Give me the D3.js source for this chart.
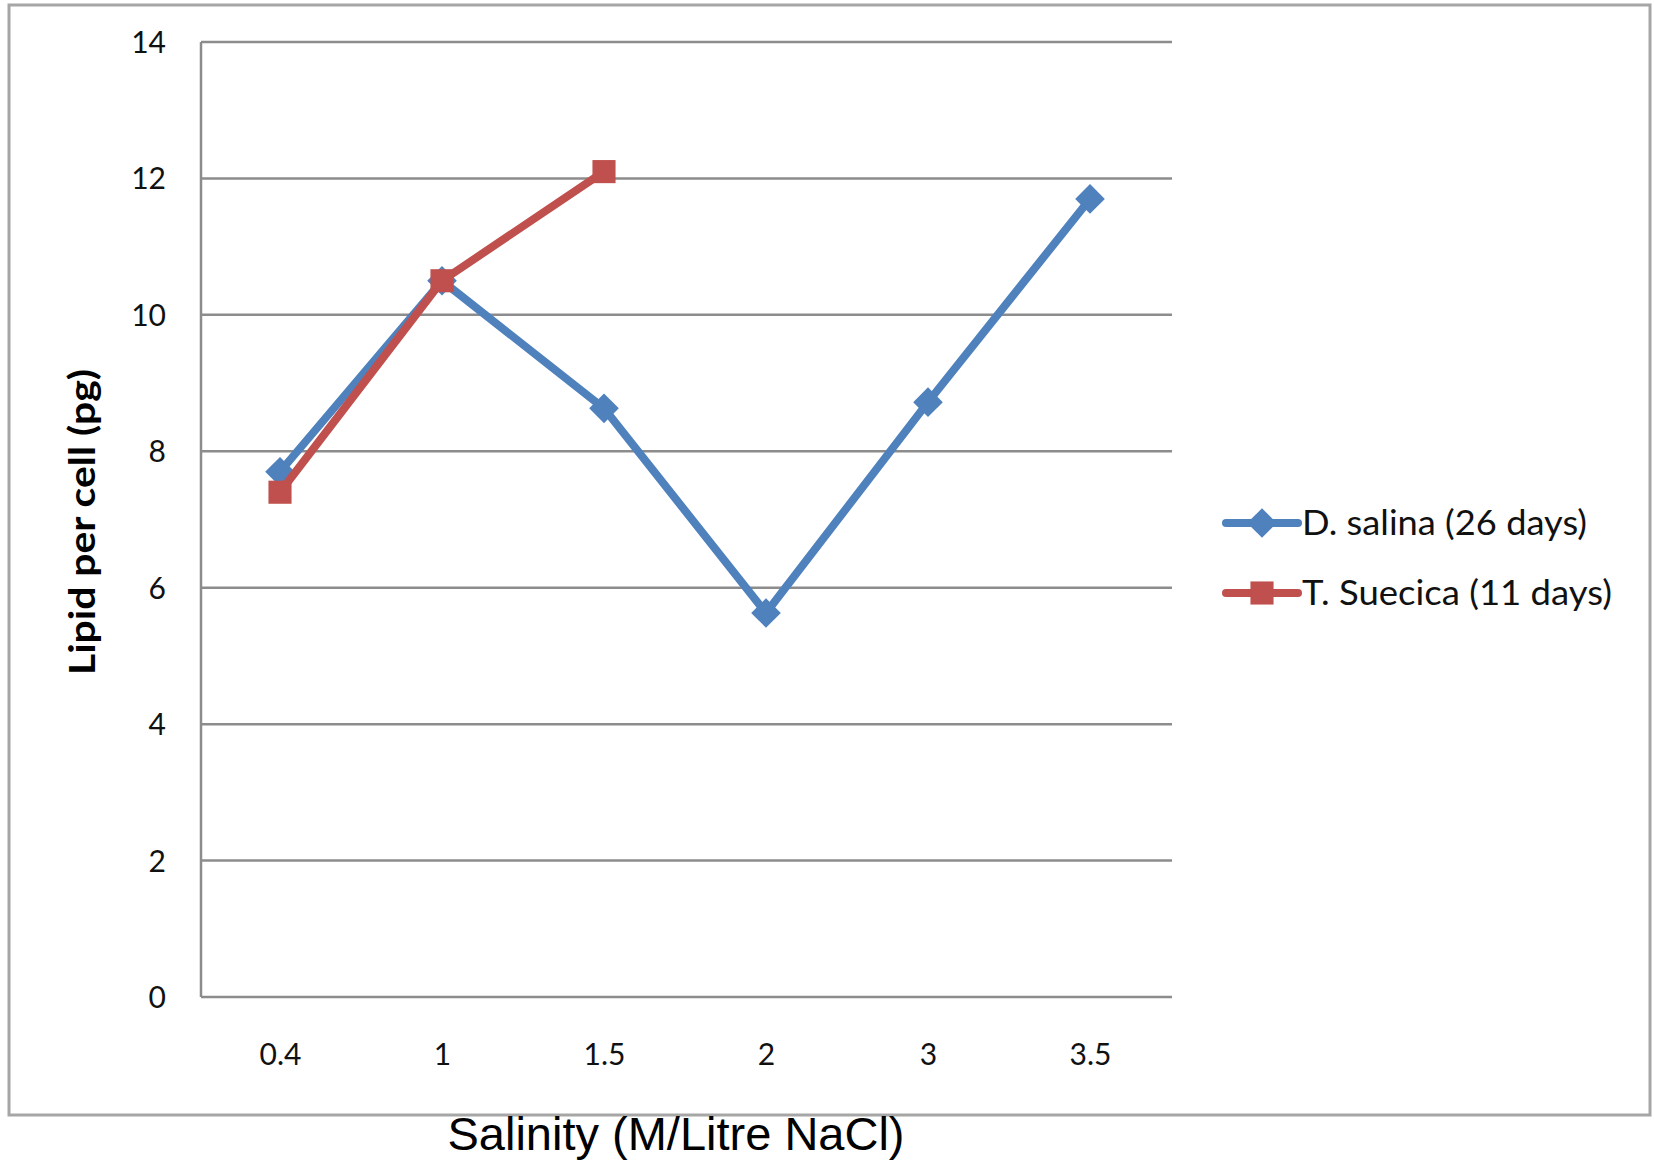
<!DOCTYPE html>
<html>
<head>
<meta charset="utf-8">
<script src="https://cdn.jsdelivr.net/npm/d3@7"></script>
<style>
  html, body { margin: 0; padding: 0; background: #ffffff; }
  svg { display: block; }
</style>
</head>
<body>
<script>
// Salinity levels (category axis) and lipid content per cell for each species
const salinity = ["0.4", "1", "1.5", "2", "3", "3.5"];
const dSalina = [7.7, 10.5, 8.63, 5.63, 8.72, 11.7];
const tSuecica = [7.4, 10.5, 12.1];
const yTicks = [0, 2, 4, 6, 8, 10, 12, 14];
const seriesNames = ["D. salina (26 days)", "T. Suecica (11 days)"];
const seriesColors = ["#4F81BD", "#C0504D"];

const W = 1654, H = 1163;
const svg = d3.select("body").append("svg").attr("width", W).attr("height", H);

const tickFont = "Lato, 'Open Sans', sans-serif";

// outer chart frame
svg.append("rect")
  .attr("x", 9).attr("y", 5).attr("width", 1641).attr("height", 1110)
  .attr("fill", "#fff").attr("stroke", "#a6a6a6").attr("stroke-width", 3);

const plotLeft = 201, plotRight = 1172;
const x = d3.scalePoint().domain(salinity).range([280, 1090]);
const y = d3.scaleLinear().domain([0, 14]).range([997, 42]);

// horizontal gridlines
svg.append("g")
  .selectAll("line").data(yTicks).join("line")
  .attr("x1", plotLeft).attr("x2", plotRight)
  .attr("y1", d => y(d)).attr("y2", d => y(d))
  .attr("stroke", "#8c8c8c").attr("stroke-width", 2.5);

// vertical axis line
svg.append("line")
  .attr("x1", plotLeft).attr("x2", plotLeft)
  .attr("y1", y(14)).attr("y2", y(0))
  .attr("stroke", "#8c8c8c").attr("stroke-width", 2.5);

// y axis tick labels
const yAxis = d3.axisLeft(y).tickValues(yTicks).tickSize(0).tickPadding(0);
const gy = svg.append("g").attr("transform", "translate(166,0)").call(yAxis);
gy.select(".domain").remove();
gy.selectAll("text")
  .attr("font-family", tickFont).attr("font-size", 30).attr("fill", "#111")
  .attr("dy", "0.35em");

// x axis tick labels
const xAxis = d3.axisBottom(x).tickSize(0).tickPadding(0);
const gx = svg.append("g").attr("transform", "translate(0,1040)").call(xAxis);
gx.select(".domain").remove();
gx.selectAll("text")
  .attr("font-family", tickFont).attr("font-size", 30).attr("fill", "#111")
  .attr("dy", "0.35em").attr("y", 14);

// axis titles
svg.append("text")
  .attr("transform", "translate(82,522) rotate(-90)")
  .attr("text-anchor", "middle").attr("dy", "0.35em")
  .attr("font-family", tickFont).attr("font-weight", "bold")
  .attr("font-size", 37).attr("fill", "#000")
  .attr("textLength", 306).attr("lengthAdjust", "spacingAndGlyphs")
  .text("Lipid per cell (pg)");

svg.append("text")
  .attr("x", 676).attr("y", 1150)
  .attr("text-anchor", "middle")
  .attr("font-family", "'Liberation Sans', Arial, sans-serif")
  .attr("font-size", 47).attr("fill", "#000")
  .text("Salinity (M/Litre NaCl)");

const line = d3.line().x((d, i) => x(salinity[i])).y(d => y(d));

const diamond = d3.symbol().type(d3.symbolDiamond2).size(560);
const square = d3.symbol().type(d3.symbolSquare2).size(680);

// D. salina series
svg.append("path").datum(dSalina)
  .attr("d", line).attr("fill", "none")
  .attr("stroke", seriesColors[0]).attr("stroke-width", 8)
  .attr("stroke-linejoin", "round");
svg.append("g").selectAll("path").data(dSalina).join("path")
  .attr("transform", (d, i) => `translate(${x(salinity[i])},${y(d)})`)
  .attr("d", diamond).attr("fill", seriesColors[0]);

// T. Suecica series
svg.append("path").datum(tSuecica)
  .attr("d", line).attr("fill", "none")
  .attr("stroke", seriesColors[1]).attr("stroke-width", 8)
  .attr("stroke-linejoin", "round");
svg.append("g").selectAll("path").data(tSuecica).join("path")
  .attr("transform", (d, i) => `translate(${x(salinity[i])},${y(d)})`)
  .attr("d", square).attr("fill", seriesColors[1]);

// legend
const legend = svg.append("g");
const markers = [diamond, square];
seriesNames.forEach((name, i) => {
  const ly = 523 + i * 70;
  legend.append("line")
    .attr("x1", 1226).attr("x2", 1298).attr("y1", ly).attr("y2", ly)
    .attr("stroke", seriesColors[i]).attr("stroke-width", 8)
    .attr("stroke-linecap", "round");
  legend.append("path")
    .attr("transform", `translate(1262,${ly})`)
    .attr("d", markers[i]).attr("fill", seriesColors[i]);
  legend.append("text")
    .attr("x", 1302).attr("y", ly).attr("dy", "0.35em")
    .attr("font-family", tickFont).attr("font-size", 34).attr("fill", "#111")
    .attr("textLength", i === 0 ? 285 : 310).attr("lengthAdjust", "spacingAndGlyphs")
    .text(name);
});
</script>
</body>
</html>
